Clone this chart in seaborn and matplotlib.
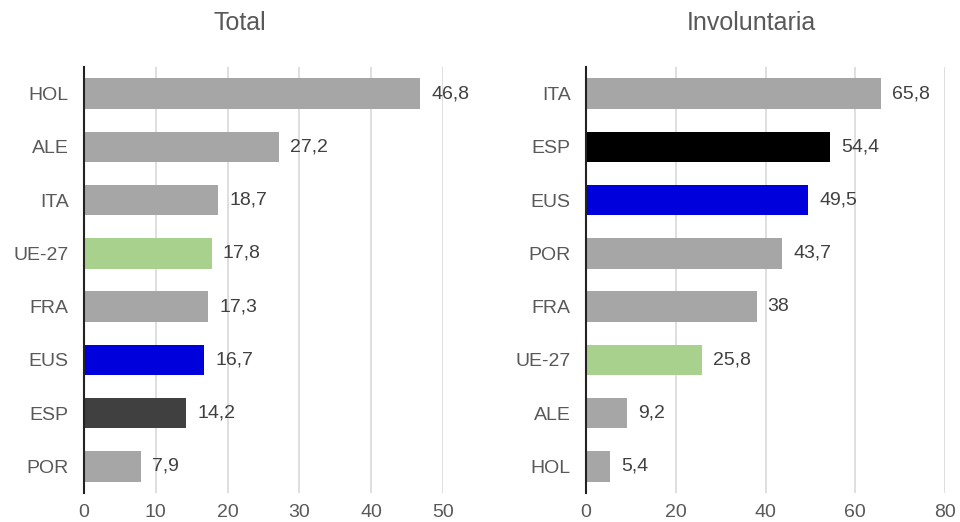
import numpy as np
import pandas as pd
import seaborn as sns
from matplotlib import pyplot as plt

sns.set_style("white")
plt.rcParams['font.family'] = ['Liberation Sans', 'DejaVu Sans']

# data
total_cats = ['HOL', 'ALE', 'ITA', 'UE-27', 'FRA', 'EUS', 'ESP', 'POR']
total_vals = [46.8, 27.2, 18.7, 17.8, 17.3, 16.7, 14.2, 7.9]
total_labels = ['46,8', '27,2', '18,7', '17,8', '17,3', '16,7', '14,2', '7,9']

invol_cats = ['ITA', 'ESP', 'EUS', 'POR', 'FRA', 'UE-27', 'ALE', 'HOL']
invol_vals = [65.8, 54.4, 49.5, 43.7, 38.0, 25.8, 9.2, 5.4]
invol_labels = ['65,8', '54,4', '49,5', '43,7', '38', '25,8', '9,2', '5,4']

grey = '#a6a6a6'
special = {'UE-27': '#a9d18e', 'EUS': '#0000dc'}
esp_colour = {'Total': '#404040', 'Involuntaria': '#000000'}

fig = plt.figure(figsize=(9.6, 5.22), dpi=100)
ax1 = fig.add_axes([0.0875, 0.0556, 0.374, 0.816])
ax2 = fig.add_axes([0.6104, 0.0556, 0.374, 0.816])


def draw(ax, cats, vals, labels, title, xmax, ticks, title_x):
    pal = {}
    for c in cats:
        pal[c] = special.get(c, grey)
    pal['ESP'] = esp_colour[title]
    df = pd.DataFrame({'cat': cats, 'val': vals})
    sns.barplot(data=df, x='val', y='cat', hue='cat', palette=pal,
                legend=False, width=0.57, orient='h', ax=ax, saturation=1,
                edgecolor='none', zorder=3)
    for i, (v, lab) in enumerate(zip(vals, labels)):
        ax.annotate(lab, (v, i), xytext=(8, 0), textcoords='offset points',
                    va='center', ha='left', fontsize=14, color='#404040')
    ax.set_xlim(0, xmax)
    ax.set_ylim(len(cats) - 0.5, -0.5)
    ax.set_xticks(ticks)
    ax.grid(axis='x', color='#d9d9d9', linewidth=1.2, zorder=0)
    ax.set_axisbelow(True)
    for s in ['top', 'right', 'bottom']:
        ax.spines[s].set_visible(False)
    ax.spines['left'].set_color('#222222')
    ax.spines['left'].set_linewidth(1.5)
    ax.spines['left'].set_zorder(5)
    ax.tick_params(axis='both', length=0, labelsize=14, colors='#595959', pad=8)
    ax.tick_params(axis='y', pad=11)
    ax.set_xlabel('')
    ax.set_ylabel('')
    ax.set_title(title, fontsize=18, color='#595959', pad=27, x=title_x)


draw(ax1, total_cats, total_vals, total_labels, 'Total', 50, [0, 10, 20, 30, 40, 50], 0.435)
draw(ax2, invol_cats, invol_vals, invol_labels, 'Involuntaria', 80, [0, 20, 40, 60, 80], 0.462)

fig.savefig('out.png', dpi=100)
